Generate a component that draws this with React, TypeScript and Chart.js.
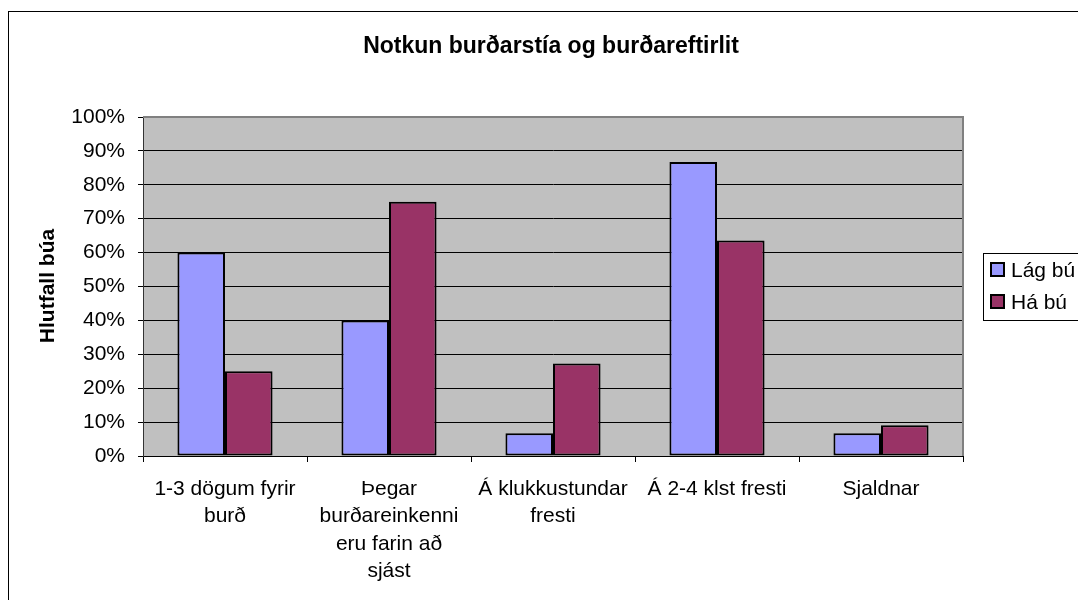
import React, { useEffect, useRef } from 'react';
import { Chart, registerables } from 'chart.js';

Chart.register(...registerables);

const chartTitle = 'Notkun burðarstía og burðareftirlit';
const yAxisTitle = 'Hlutfall búa';
const categories: (string | string[])[] = [
  ['1-3 dögum fyrir', 'burð'],
  ['Þegar', 'burðareinkenni', 'eru farin að', 'sjást'],
  ['Á klukkustundar', 'fresti'],
  'Á 2-4 klst fresti',
  'Sjaldnar',
];
const seriesNames = ['Lág bú', 'Há bú'];
const lowValues = [60, 40, 6.7, 86.7, 6.7];
const highValues = [25, 75, 27.3, 63.6, 9.1];
const seriesColors = ['#9999FF', '#993366'];
const yMin = 0;
const yMax = 100;
const yStep = 10;

const FONT = '"Liberation Sans", Arial, sans-serif';

const decorPlugin = {
  id: 'decor',
  beforeDraw(chart: any) {
    const { ctx, chartArea } = chart;
    ctx.save();
    ctx.fillStyle = '#ffffff';
    ctx.fillRect(0, 0, chart.width, chart.height);
    ctx.fillStyle = '#C0C0C0';
    ctx.fillRect(chartArea.left, chartArea.top, chartArea.right - chartArea.left, chartArea.bottom - chartArea.top);
    ctx.restore();
  },
  beforeDatasetsDraw(chart: any) {
    const { ctx, chartArea } = chart;
    ctx.save();
    ctx.strokeStyle = '#808080';
    ctx.lineWidth = 2;
    ctx.beginPath();
    ctx.moveTo(chartArea.left, chartArea.top);
    ctx.lineTo(chartArea.right, chartArea.top);
    ctx.lineTo(chartArea.right, chartArea.bottom);
    ctx.stroke();
    ctx.restore();
  },
  afterDraw(chart: any) {
    const { ctx } = chart;
    ctx.save();
    ctx.strokeStyle = '#000';
    ctx.lineWidth = 1;
    ctx.strokeRect(8.5, 11.5, 2000, 2000);
    ctx.fillStyle = '#000';
    ctx.font = `bold 23px ${FONT}`;
    ctx.textAlign = 'center';
    ctx.textBaseline = 'middle';
    ctx.fillText(chartTitle, 551, 47);
    ctx.save();
    ctx.translate(48, 286);
    ctx.rotate(-Math.PI / 2);
    ctx.font = `bold 21px ${FONT}`;
    ctx.fillText(yAxisTitle, 0, 0);
    ctx.restore();
    ctx.fillStyle = '#fff';
    ctx.fillRect(983.5, 253.5, 200, 67);
    ctx.strokeStyle = '#000';
    ctx.lineWidth = 1;
    ctx.strokeRect(983.5, 253.5, 200, 67);
    ctx.font = `21px ${FONT}`;
    ctx.textAlign = 'left';
    seriesNames.forEach((name, i) => {
      const cy = 270 + i * 32;
      ctx.fillStyle = seriesColors[i];
      ctx.fillRect(991, cy - 7, 13, 13);
      ctx.strokeStyle = '#000';
      ctx.lineWidth = 2;
      ctx.strokeRect(991, cy - 7, 13, 13);
      ctx.fillStyle = '#000';
      ctx.fillText(name, 1011, cy + 1);
    });
    ctx.restore();
  },
};

export default function App() {
  const canvasRef = useRef<HTMLCanvasElement | null>(null);

  useEffect(() => {
    document.body.style.margin = '0';
    const canvas = canvasRef.current;
    if (!canvas) return;
    const chart = new Chart(canvas, {
      type: 'bar',
      data: {
        labels: categories,
        datasets: [
          {
            label: seriesNames[0],
            data: lowValues,
            backgroundColor: seriesColors[0],
            borderColor: '#000',
            borderWidth: 2,
            borderSkipped: false,
            categoryPercentage: 0.58,
            barPercentage: 1,
          },
          {
            label: seriesNames[1],
            data: highValues,
            backgroundColor: seriesColors[1],
            borderColor: '#000',
            borderWidth: 2,
            borderSkipped: false,
            categoryPercentage: 0.58,
            barPercentage: 1,
          },
        ],
      },
      plugins: [decorPlugin],
      options: {
        responsive: false,
        animation: false,
        devicePixelRatio: 1,
        layout: { padding: { left: 0, top: 117, right: 115, bottom: 0 } },
        plugins: {
          legend: { display: false },
          title: { display: false },
          tooltip: { enabled: false },
        },
        scales: {
          x: {
            afterFit(scale: any) {
              scale.height = 144;
            },
            grid: {
              offset: true,
              drawOnChartArea: false,
              drawTicks: true,
              tickLength: 6,
              tickColor: '#000',
            },
            border: { display: true, color: '#000', width: 1 },
            ticks: {
              autoSkip: false,
              maxRotation: 0,
              minRotation: 0,
              padding: 14,
              color: '#000',
              font: { family: FONT, size: 21, lineHeight: 1.29 },
            },
          },
          y: {
            min: yMin,
            max: yMax,
            afterFit(scale: any) {
              scale.width = 143;
            },
            grid: {
              color: (c: any) => (c.tick && c.tick.value === yMax ? 'rgba(0,0,0,0)' : '#000'),
              tickColor: '#000',
              tickLength: 5,
              lineWidth: 1,
            },
            border: { display: true, color: '#333', width: 1 },
            ticks: {
              stepSize: yStep,
              padding: 13,
              color: '#000',
              font: { family: FONT, size: 21 },
              callback: (v: any) => `${v}%`,
            },
          },
        },
      },
    });
    return () => chart.destroy();
  }, []);

  return (
    <div style={{ position: 'absolute', left: 0, top: 0, width: 1078, height: 600 }}>
      <canvas ref={canvasRef} width={1078} height={600} style={{ width: 1078, height: 600, display: 'block' }} />
    </div>
  );
}
